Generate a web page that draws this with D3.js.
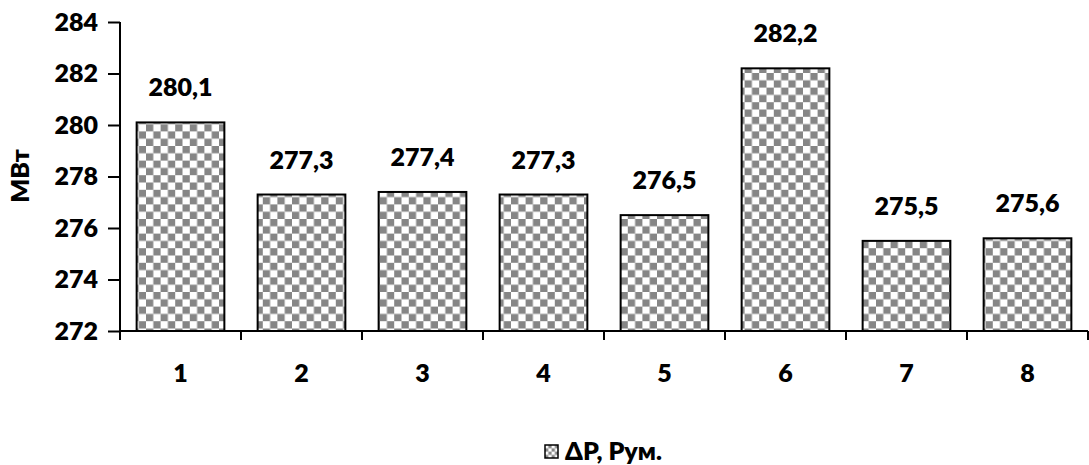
<!DOCTYPE html>
<html>
<head>
<meta charset="utf-8">
<script src="https://cdn.jsdelivr.net/npm/d3@7"></script>
<style>
  html, body { margin: 0; padding: 0; background: #fff; }
  svg { display: block; }
  text { font-family: Lato, "Open Sans", sans-serif; font-weight: 800; fill: #000; }
</style>
</head>
<body>
<svg id="chart" width="1089" height="465"></svg>
<script>
// Power loss per variant
const categories = ["1", "2", "3", "4", "5", "6", "7", "8"];
const values = [280.1, 277.3, 277.4, 277.3, 276.5, 282.2, 275.5, 275.6];
const valueLabels = ["280,1", "277,3", "277,4", "277,3", "276,5", "282,2", "275,5", "275,6"];
const yTicks = [272, 274, 276, 278, 280, 282, 284];
const seriesName = "ΔP, Рум.";
const yTitle = "МВт";

const svg = d3.select("#chart");
const plot = { left: 120, right: 1088, top: 22, bottom: 331 };
const FS = 25;

const defs = svg.append("defs");
function checker(id, cell) {
  const p = defs.append("pattern")
    .attr("id", id)
    .attr("patternUnits", "userSpaceOnUse")
    .attr("width", cell * 2)
    .attr("height", cell * 2);
  p.append("rect").attr("width", cell * 2).attr("height", cell * 2).attr("fill", "#fff");
  p.append("rect").attr("x", cell).attr("y", 0).attr("width", cell).attr("height", cell).attr("fill", "#868686");
  p.append("rect").attr("x", 0).attr("y", cell).attr("width", cell).attr("height", cell).attr("fill", "#868686");
}
checker("chk", 7.3);
checker("chkSmall", 3.3);

const x = d3.scaleBand().domain(categories).range([plot.left, plot.right]).paddingInner(0.275).paddingOuter(0.1375);
const y = d3.scaleLinear().domain([272, 284]).range([plot.bottom, plot.top]);

// Bars
svg.append("g").selectAll("rect")
  .data(values)
  .join("rect")
  .attr("x", (d, i) => x(categories[i]))
  .attr("y", d => y(d))
  .attr("width", x.bandwidth())
  .attr("height", d => y(272) - y(d))
  .attr("fill", "url(#chk)")
  .attr("stroke", "#000")
  .attr("stroke-width", 2);

// Value labels
svg.append("g").selectAll("text")
  .data(values)
  .join("text")
  .attr("x", (d, i) => x(categories[i]) + x.bandwidth() / 2)
  .attr("y", d => y(d) - 26)
  .attr("text-anchor", "middle")
  .attr("font-size", FS)
  .text((d, i) => valueLabels[i]);

// Y axis
const yAxis = d3.axisLeft(y).tickValues(yTicks).tickSize(12).tickPadding(10).tickFormat(d3.format("d"));
const gy = svg.append("g").attr("transform", `translate(${plot.left},0)`).call(yAxis);
gy.select(".domain").remove();
gy.selectAll(".tick line").attr("stroke", "#000").attr("stroke-width", 2);
gy.selectAll(".tick text").attr("font-size", FS).attr("font-family", "Lato, sans-serif").attr("font-weight", 800).attr("fill", "#000");
svg.append("line")
  .attr("x1", plot.left).attr("x2", plot.left)
  .attr("y1", plot.top).attr("y2", plot.bottom + 9)
  .attr("stroke", "#000").attr("stroke-width", 2);

// X axis with category boundary ticks
const step = x.step();
const bounds = d3.range(categories.length + 1).map(i => plot.left + i * step);
svg.append("line")
  .attr("x1", plot.left).attr("x2", plot.right)
  .attr("y1", plot.bottom).attr("y2", plot.bottom)
  .attr("stroke", "#000").attr("stroke-width", 2);
svg.append("g").selectAll("line")
  .data(bounds)
  .join("line")
  .attr("x1", d => d).attr("x2", d => d)
  .attr("y1", plot.bottom).attr("y2", plot.bottom + 9)
  .attr("stroke", "#000").attr("stroke-width", 2);
svg.append("g").selectAll("text")
  .data(categories)
  .join("text")
  .attr("x", d => x(d) + x.bandwidth() / 2)
  .attr("y", 382)
  .attr("text-anchor", "middle")
  .attr("font-size", FS)
  .text(d => d);

// Y title
svg.append("text")
  .attr("transform", "translate(29,176) rotate(-90)")
  .attr("text-anchor", "middle")
  .attr("font-size", FS)
  .text(yTitle);

// Legend
const lg = svg.append("g").attr("transform", "translate(545,445)");
lg.append("rect").attr("width", 13).attr("height", 13)
  .attr("fill", "url(#chkSmall)").attr("stroke", "#000").attr("stroke-width", 1.5);
lg.append("text").attr("x", 20).attr("y", 15).attr("font-size", FS).text(seriesName);
</script>
</body>
</html>
